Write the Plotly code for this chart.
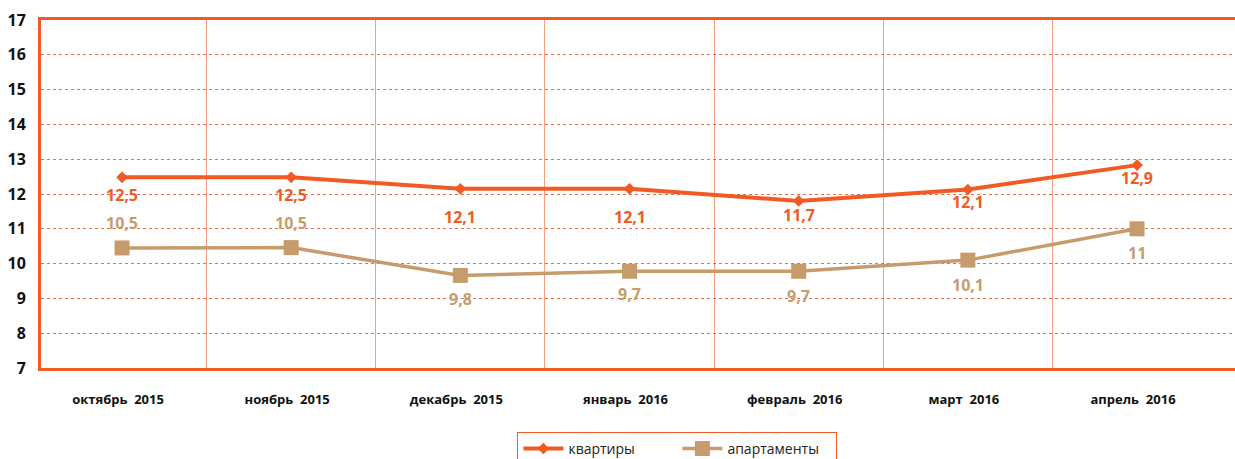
import plotly.graph_objects as go

months = ["октябрь  2015", "ноябрь  2015", "декабрь  2015", "январь  2016",
          "февраль  2016", "март  2016", "апрель  2016"]
flats = [12.48, 12.48, 12.15, 12.15, 11.8, 12.13, 12.83]
flats_text = ["12,5", "12,5", "12,1", "12,1", "11,7", "12,1", "12,9"]
apts = [10.45, 10.46, 9.66, 9.78, 9.78, 10.1, 11.0]
apts_text = ["10,5", "10,5", "9,8", "9,7", "9,7", "10,1", "11"]
y_ticks = list(range(7, 18))

# label offsets in pixels (positive = below the point)
flats_off = [18, 18, 28, 28, 14, 13, 13]
apts_off = [-25, -25, 24, 23, 25, 25, 24]

ORANGE = "#F15A24"
TAN = "#C69C6D"
xs = list(range(len(months)))

fig = go.Figure()
fig.add_trace(go.Scatter(
    x=xs, y=flats, mode="lines+markers", name="квартиры",
    line=dict(color=ORANGE, width=4),
    marker=dict(symbol="diamond", size=9, color=ORANGE)))
fig.add_trace(go.Scatter(
    x=xs, y=apts, mode="lines+markers", name="апартаменты",
    line=dict(color=TAN, width=3.5),
    marker=dict(symbol="square", size=15, color=TAN)))

for i in xs:
    fig.add_annotation(x=i, y=flats[i], text=flats_text[i], showarrow=False,
                       yshift=-flats_off[i],
                       font=dict(family="Open Sans", size=16, color=ORANGE, weight="bold"))
    fig.add_annotation(x=i, y=apts[i], text=apts_text[i], showarrow=False,
                       yshift=-apts_off[i],
                       font=dict(family="Open Sans", size=16, color=TAN, weight="bold"))

fig.update_layout(
    width=1235, height=459,
    margin=dict(l=41, r=0, t=20, b=91),
    paper_bgcolor="white", plot_bgcolor="white",
    showlegend=True,
    legend=dict(orientation="h", x=0.533, xanchor="center",
                yref="container", y=0.059, yanchor="top",
                bordercolor=ORANGE, borderwidth=1,
                font=dict(family="Open Sans", size=14, color="#222"),
                entrywidth=104, itemwidth=40),
    xaxis=dict(
        range=[-0.479, 6.579], tickvals=xs, ticktext=months,
        showgrid=False, zeroline=False, automargin=False,
        showline=True, linecolor=ORANGE, linewidth=3, mirror=True,
        ticks="", ticklabelstandoff=17, ticklabelshift=-4,
        tickfont=dict(family="Open Sans", size=13, color="#111", weight="bold"),
        minor=dict(tickvals=[0.5, 1.5, 2.5, 3.5, 4.5, 5.5], showgrid=True,
                   gridcolor="#F7A07E", gridwidth=1, ticks="")),
    yaxis=dict(
        range=[7, 17], tickvals=y_ticks, automargin=False,
        showgrid=True, gridcolor="#F26B3A", gridwidth=1, griddash="dot",
        zeroline=False,
        showline=True, linecolor=ORANGE, linewidth=3,
        ticks="", ticklabelstandoff=9,
        tickfont=dict(family="Open Sans", size=16, color="#111", weight="bold")),
)

fig.write_html("out.html", config={"displayModeBar": False},
               post_script="document.body.style.margin='0';document.body.style.overflow='hidden';")
